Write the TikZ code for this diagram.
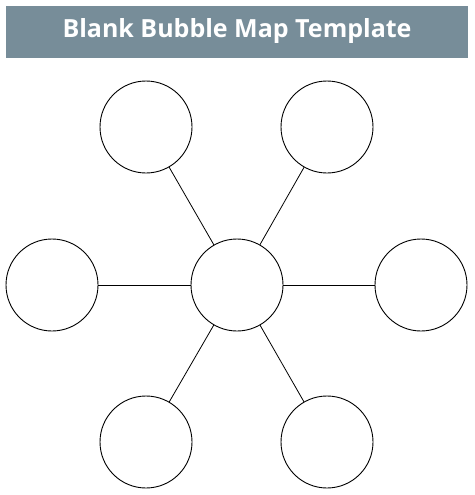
\documentclass[tikz,border=0pt]{standalone}
\usepackage{fontspec}
\setmainfont{Open Sans}
\definecolor{barcolor}{HTML}{778D99}
\begin{document}
\begin{tikzpicture}[x=1pt,y=-1pt,
	bubble/.style={draw,circle,line width=0.9pt,minimum size=92pt,inner sep=0pt},
	spoke/.style={line width=0.8pt}]
	\useasboundingbox (0,0) rectangle (474,495);
	% title bar
	\fill[barcolor] (6,6) rectangle (468,58);
	\node[white,font=\fontsize{25}{30}\selectfont\bfseries] (title) at (237,31) {Blank Bubble Map Template};
	% centre bubble
	\node[bubble] (centre) at (237,285) {};
	% outer bubbles
	\node[bubble] (tl) at (146,127) {};
	\node[bubble] (tr) at (327,127) {};
	\node[bubble] (left) at (52,285) {};
	\node[bubble] (right) at (421,285) {};
	\node[bubble] (bl) at (146,442) {};
	\node[bubble] (br) at (327,442) {};
	% spokes
	\foreach \n in {tl,tr,left,right,bl,br}
		\draw[spoke] (centre) -- (\n);
\end{tikzpicture}
\end{document}
